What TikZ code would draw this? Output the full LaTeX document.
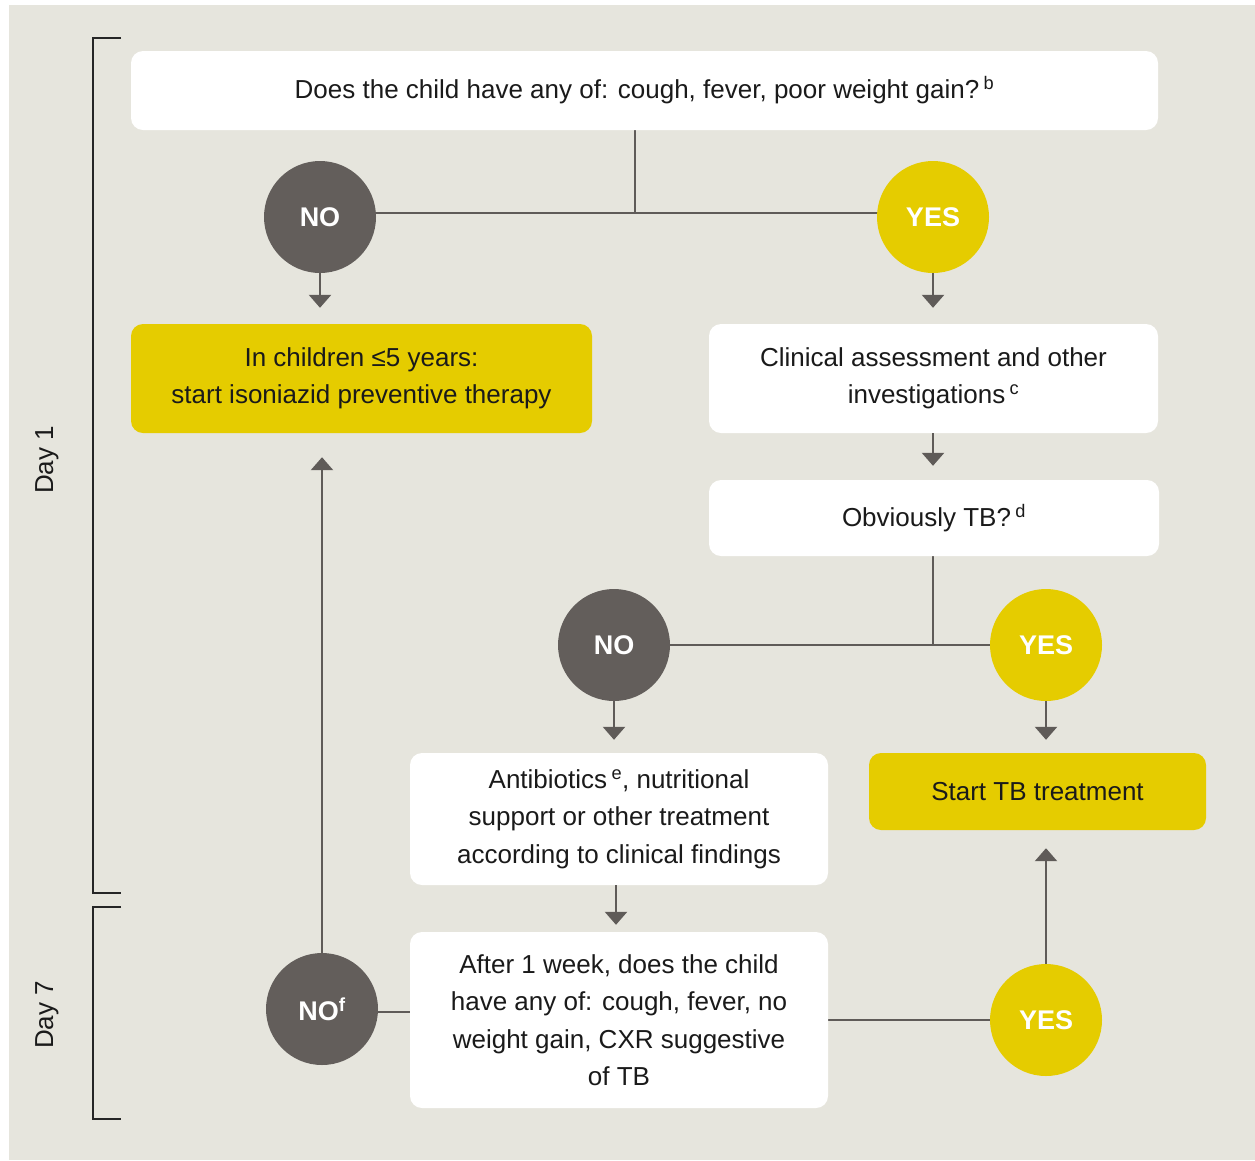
\documentclass[tikz,border=0pt]{standalone}
\usepackage{fontspec}
\setmainfont{Liberation Sans}
\usetikzlibrary{arrows.meta}
\definecolor{bgc}{RGB}{230,229,221}
\definecolor{yel}{RGB}{229,204,0}
\definecolor{dgrey}{RGB}{99,94,91}
\definecolor{linec}{RGB}{95,91,88}
\definecolor{txt}{RGB}{26,26,26}
\pgfdeclarelayer{bgfill}
\pgfdeclarelayer{lines}
\pgfsetlayers{bgfill,lines,main}
\tikzset{
  box/.style={rounded corners=12pt, fill=white, align=center, text=txt,
    font=\fontsize{26}{37.5}\selectfont, inner sep=0pt},
  ybox/.style={box, fill=yel},
  circ/.style={circle, minimum size=112pt, inner sep=0pt, text=white,
    font=\fontsize{27}{30}\selectfont\bfseries},
  nocirc/.style={circ, fill=dgrey},
  yescirc/.style={circ, fill=yel},
  conn/.style={draw=linec, line width=2.6pt},
  arr/.style={conn, -{Triangle[width=22pt,length=13pt]}},
  bracket/.style={draw=black!85, line width=1.4pt},
  daylab/.style={rotate=90, font=\fontsize{26}{30}\selectfont, text=txt}
}
\begin{document}
\begin{tikzpicture}[x=1pt,y=-1pt]
\useasboundingbox (0,0) rectangle (1255,1160);
\begin{pgfonlayer}{bgfill}
\fill[bgc] (9,5) rectangle (1255,1160);
\end{pgfonlayer}

% brackets and day labels
\draw[bracket] (121,38) -- (93,38) -- (93,893) -- (121,893);
\draw[bracket] (121,907) -- (93,907) -- (93,1119) -- (121,1119);
\node[daylab] (day1) at (47,460) {Day 1};
\node[daylab] (day7) at (47,1015) {Day 7};

% boxes
\node[box, minimum width=1027pt, minimum height=79pt] (top) at (644.5,90.5)
  {Does the child have any of: cough, fever, poor weight gain?\,\textsuperscript{b}};
\node[ybox, minimum width=461pt, minimum height=109pt] (lbox) at (361.5,378.5)
  {In children ≤5 years:\\start isoniazid preventive therapy};
\node[box, minimum width=449pt, minimum height=109pt] (rbox) at (933.5,378.5)
  {Clinical assessment and other\\investigations\,\textsuperscript{c}};
\node[box, minimum width=450pt, minimum height=76pt] (obv) at (934,518)
  {Obviously TB?\,\textsuperscript{d}};
\node[box, minimum width=418pt, minimum height=132pt] (anti) at (619,819)
  {Antibiotics\,\textsuperscript{e}, nutritional\\support or other treatment\\according to clinical findings};
\node[ybox, minimum width=337pt, minimum height=77pt] (start) at (1037.5,791.5)
  {Start TB treatment};
\node[box, minimum width=418pt, minimum height=176pt] (after) at (619,1020)
  {After 1 week, does the child\\have any of: cough, fever, no\\weight gain, CXR suggestive\\of TB};

% circles
\node[nocirc] (no1) at (320,217) {NO};
\node[yescirc] (yes1) at (933,217) {YES};
\node[nocirc] (no2) at (614,645) {NO};
\node[yescirc] (yes2) at (1046,645) {YES};
\node[nocirc] (no3) at (322,1009) {NO\textsuperscript{f}};
\node[yescirc] (yes3) at (1046,1020) {YES};

\coordinate (j1) at (635,213);
\coordinate (j2) at (933,645);
\coordinate (j3) at (410,1012);

\begin{pgfonlayer}{lines}
\draw[conn] (top.south -| j1) -- (j1);
\draw[conn] (no1 |- j1) -- (yes1 |- j1);
\draw[conn] (obv.south -| j2) -- (j2);
\draw[conn] (no2 |- j2) -- (yes2 |- j2);
\draw[conn] (no3 |- j3) -- (j3);
\draw[conn] (after.east |- yes3) -- (yes3);
\end{pgfonlayer}

% arrows
\draw[arr] (no1.south) -- ([yshift=16pt]lbox.north -| no1);
\draw[arr] (yes1.south) -- ([yshift=16pt]rbox.north -| yes1);
\draw[arr] (rbox.south -| yes1) -- ([yshift=14pt]obv.north -| yes1);
\draw[arr] (no2.south) -- ([yshift=13pt]anti.north -| no2);
\draw[arr] (yes2.south) -- ([yshift=13pt]start.north -| yes2);
\draw[arr] (anti.south -| 616,0) -- ([yshift=7pt]after.north -| 616,0);
\draw[arr] (no3.north) -- ([yshift=-24pt]lbox.south -| no3);
\draw[arr] (yes3.north) -- ([yshift=-18pt]start.south -| yes3);
\end{tikzpicture}
\end{document}
